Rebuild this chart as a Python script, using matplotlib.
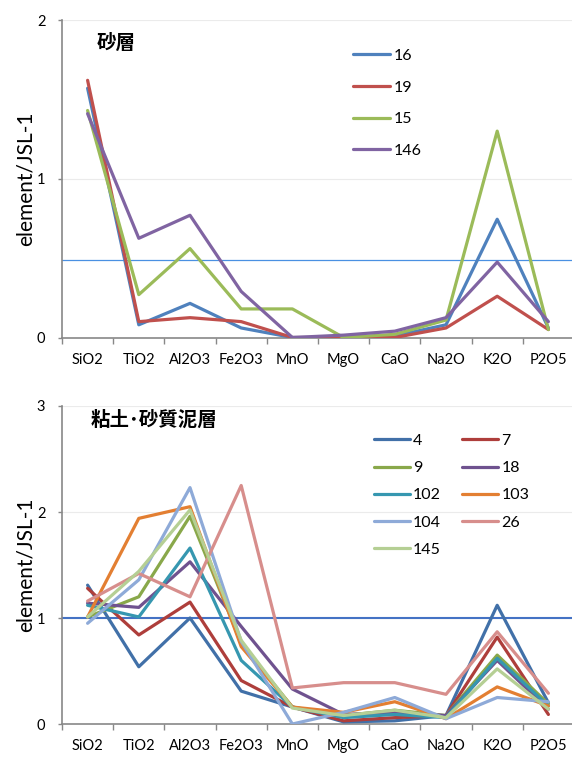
import matplotlib.pyplot as plt

plt.rcParams['font.family'] = ['Lato', 'Noto Sans CJK JP', 'DejaVu Sans']

elements = ['SiO2', 'TiO2', 'Al2O3', 'Fe2O3', 'MnO', 'MgO', 'CaO', 'Na2O', 'K2O', 'P2O5']

# 砂層
sand_names = ['16', '19', '15', '146']
s16 = [1.57, 0.08, 0.215, 0.06, 0.0, 0.0, 0.01, 0.08, 0.745, 0.06]
s19 = [1.62, 0.10, 0.125, 0.10, 0.0, 0.0, 0.0, 0.06, 0.26, 0.05]
s15 = [1.43, 0.27, 0.56, 0.18, 0.18, 0.0, 0.02, 0.11, 1.30, 0.05]
s146 = [1.41, 0.625, 0.77, 0.29, 0.0, 0.015, 0.04, 0.125, 0.475, 0.10]
sand_colors = ['#4F81BD', '#C0504D', '#9BBB59', '#8064A2']
sand_ref = 0.49

# 粘土・砂質泥層
clay_names = ['4', '7', '9', '18', '102', '103', '104', '26', '145']
c4 = [1.31, 0.54, 1.00, 0.31, 0.16, 0.02, 0.03, 0.08, 1.12, 0.20]
c7 = [1.28, 0.84, 1.15, 0.41, 0.16, 0.03, 0.06, 0.08, 0.82, 0.09]
c9 = [1.01, 1.20, 1.96, 0.76, 0.16, 0.08, 0.13, 0.08, 0.65, 0.19]
c18 = [1.14, 1.10, 1.53, 0.92, 0.33, 0.09, 0.11, 0.08, 0.60, 0.14]
c102 = [1.12, 1.01, 1.66, 0.60, 0.16, 0.06, 0.09, 0.06, 0.62, 0.17]
c103 = [1.01, 1.94, 2.05, 0.73, 0.16, 0.11, 0.21, 0.05, 0.35, 0.17]
c104 = [0.95, 1.36, 2.23, 0.78, 0.0, 0.11, 0.25, 0.05, 0.25, 0.21]
c26 = [1.16, 1.42, 1.20, 2.25, 0.34, 0.39, 0.39, 0.28, 0.87, 0.29]
c145 = [1.01, 1.44, 2.02, 0.79, 0.15, 0.08, 0.13, 0.06, 0.52, 0.14]
clay_colors = ['#4170A8', '#AE3E3B', '#89A84A', '#6F528F', '#3697B0',
               '#E37F32', '#8EAAD8', '#D78E8C', '#B5CF94']
clay_ref = 1.0


def style_axes(ax, ymax):
    x = range(len(elements))
    ax.set_xlim(-0.5, len(elements) - 0.5)
    ax.set_ylim(0, ymax)
    ax.set_xticks([i - 0.5 for i in range(len(elements) + 1)])
    ax.set_xticklabels([])
    ax.set_xticks(list(x), minor=True)
    ax.set_xticklabels(elements, minor=True, fontsize=10.5)
    ax.tick_params(axis='x', which='major', length=4, width=1, color='#888888', direction='out')
    ax.tick_params(axis='x', which='minor', length=0, pad=11)
    ax.set_yticks(range(ymax + 1))
    ax.tick_params(axis='y', length=3, width=1, color='#888888', labelsize=10.5, pad=9)
    for s in ['top', 'right']:
        ax.spines[s].set_visible(False)
    for s in ['left', 'bottom']:
        ax.spines[s].set_color('#888888')
        ax.spines[s].set_linewidth(1.2)
    ax.grid(axis='y', color='#EBEBEB', linewidth=0.8)
    ax.set_axisbelow(True)
    ax.set_ylabel('element/JSL-1', fontsize=15, labelpad=1)


fig = plt.figure(figsize=(5.72, 7.64), dpi=100)
W, H = 572, 764

ax1 = fig.add_axes([62 / W, 1 - 337.5 / H, 512 / W, 317.5 / H])
style_axes(ax1, 2)
ax1.axhline(sand_ref, color='#4A90E2', linewidth=0.9, zorder=1)
for name, vals, col in zip(sand_names, [s16, s19, s15, s146], sand_colors):
    ax1.plot(range(len(elements)), vals, color=col, linewidth=2.3, label=name,
             solid_capstyle='round', zorder=3)
ax1.text(0.067, 0.955, '砂層', transform=ax1.transAxes, fontsize=14,
         fontweight='bold', family=['Noto Sans CJK JP'], va='top')
ax1.legend(loc='upper left', bbox_to_anchor=(0.553, 0.935), frameon=False,
           fontsize=11.5, handlelength=2.3, handletextpad=0.25, labelspacing=1.1,
           borderpad=0)

ax2 = fig.add_axes([62 / W, 1 - 724 / H, 512 / W, 318 / H])
style_axes(ax2, 3)
ax2.axhline(clay_ref, color='#4472C4', linewidth=1.5, zorder=1)
clay_series = [c4, c7, c9, c18, c102, c103, c104, c26, c145]
handles = []
for name, vals, col in zip(clay_names, clay_series, clay_colors):
    h, = ax2.plot(range(len(elements)), vals, color=col, linewidth=2.3, label=name,
                  solid_capstyle='round', zorder=3)
    handles.append(h)
ax2.text(0.055, 0.985, '粘土･砂質泥層', transform=ax2.transAxes, fontsize=14,
         fontweight='bold', family=['Noto Sans CJK JP'], va='top')
order = [0, 2, 4, 6, 8, 1, 3, 5, 7]
ax2.legend([handles[i] for i in order], [clay_names[i] for i in order],
           loc='upper left', bbox_to_anchor=(0.593, 0.938), ncol=2, frameon=False,
           fontsize=11.5, handlelength=2.25, handletextpad=0.2, labelspacing=0.82,
           columnspacing=1.35, borderpad=0)

fig.savefig('out.png', dpi=100)
